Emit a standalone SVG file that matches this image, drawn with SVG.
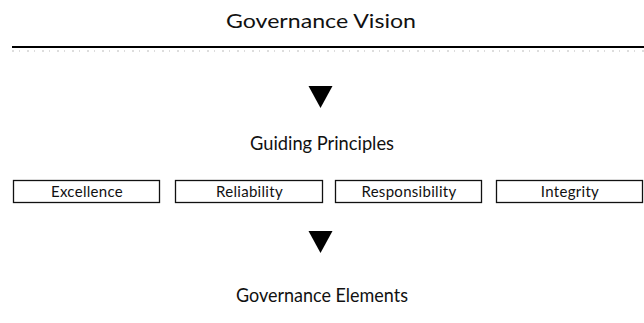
<svg xmlns="http://www.w3.org/2000/svg" width="644" height="323" viewBox="0 0 644 323">
  <style>
    .title { font-family: "Lato", "DejaVu Sans", sans-serif; font-size: 20px; fill: #111; text-anchor: middle; }
    .label { font-family: "Lato", "DejaVu Sans", sans-serif; font-size: 15px; fill: #111; text-anchor: middle; letter-spacing: 0.3px; }
    .box { fill: #fff; stroke: #111; stroke-width: 1.3; }
    .arrow { fill: #000; }
  </style>
  <rect width="644" height="323" fill="#fff"/>

  <g id="vision">
    <text class="title" x="321" y="28" textLength="190" lengthAdjust="spacingAndGlyphs">Governance Vision</text>
  </g>

  <!-- rule under the vision heading -->
  <g id="rule">
    <line x1="12" y1="47" x2="644" y2="47" stroke="#000" stroke-width="2"/>
    <line x1="12" y1="51" x2="644" y2="51" stroke="#aaa" stroke-width="0.8" stroke-dasharray="2 5 1 7"/>
  </g>

  <g id="connectors">
    <polygon class="arrow" points="308.5,86 332.5,86 320.5,108"/>
    <polygon class="arrow" points="308.5,231 332.5,231 320.5,253"/>
  </g>

  <g id="principles">
    <text class="title" x="322" y="150" textLength="144" lengthAdjust="spacingAndGlyphs">Guiding Principles</text>
  </g>

  <g id="excellence">
    <rect class="box" x="13.5" y="180.5" width="146" height="22"/>
    <text class="label" x="87" y="197">Excellence</text>
  </g>
  <g id="reliability">
    <rect class="box" x="175.5" y="180.5" width="147" height="22"/>
    <text class="label" x="249.5" y="197">Reliability</text>
  </g>
  <g id="responsibility">
    <rect class="box" x="335.5" y="180.5" width="146" height="22"/>
    <text class="label" x="409" y="197">Responsibility</text>
  </g>
  <g id="integrity">
    <rect class="box" x="496.5" y="180.5" width="146" height="22"/>
    <text class="label" x="570" y="197">Integrity</text>
  </g>

  <g id="elements">
    <text class="title" x="322" y="302" textLength="172" lengthAdjust="spacingAndGlyphs">Governance Elements</text>
  </g>
</svg>
